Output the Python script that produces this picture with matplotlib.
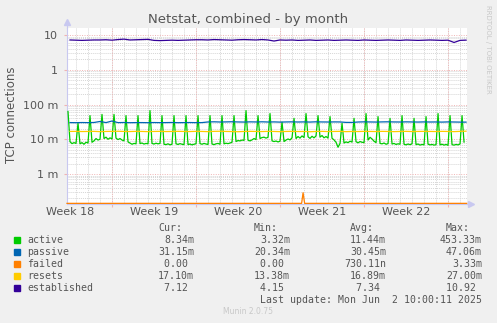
import numpy as np
import matplotlib
matplotlib.use("Agg")
import matplotlib.pyplot as plt
from matplotlib.patches import Rectangle
from matplotlib.ticker import FixedLocator, NullFormatter
import matplotlib.transforms as mtransforms

W, H = 497, 323
MILLI = 1e-3

# values in milli (connections); active is sampled every 4h (2h, 6h, .. 22h of each day)
active_m = [
    63.0, 8.5, 7.5, 8.0, 7.6, 29.0,
    7.4, 8.0, 7.2, 8.2, 7.8, 48.0,
    8.2, 9.0, 10.5, 9.5, 10.0, 52.0,
    10.5, 11.5, 10.0, 11.0, 10.2, 52.0,
    10.8, 9.8, 10.5, 9.5, 9.0, 48.0,
    8.4, 7.8, 7.2, 7.6, 7.4, 48.0,
    7.5, 7.8, 7.3, 7.6, 7.4, 67.0,
    7.6, 7.3, 7.7, 7.4, 7.6, 48.0,
    7.2, 7.0, 7.4, 6.9, 7.2, 48.0,
    7.4, 7.1, 7.5, 7.2, 7.0, 48.0,
    7.0, 7.3, 6.9, 7.2, 7.4, 48.0,
    7.5, 7.2, 7.6, 7.3, 7.1, 48.0,
    7.3, 7.0, 7.4, 7.6, 7.2, 48.0,
    7.4, 7.7, 7.5, 7.8, 8.2, 48.0,
    8.6, 9.2, 9.0, 9.5, 9.3, 67.0,
    9.4, 9.0, 9.6, 10.5, 9.8, 48.0,
    10.5, 11.2, 11.5, 10.8, 11.4, 55.0,
    9.0, 8.6, 8.9, 8.4, 8.8, 31.0,
    8.6, 9.5, 10.2, 9.6, 11.0, 40.0,
    10.5, 12.0, 10.8, 12.5, 11.2, 55.0,
    11.8, 10.6, 12.2, 11.0, 12.5, 48.0,
    11.5, 12.8, 11.0, 12.0, 10.8, 45.0,
    10.7, 9.6, 8.2, 5.9, 7.6, 29.0,
    7.8, 8.4, 8.0, 8.8, 8.3, 40.0,
    8.5, 7.9, 8.6, 8.2, 8.0, 55.0,
    9.5, 11.4, 10.2, 8.8, 8.0, 45.0,
    7.6, 7.4, 7.8, 7.2, 7.5, 40.0,
    7.3, 7.6, 7.1, 7.4, 7.2, 48.0,
    7.2, 6.9, 7.3, 7.0, 7.4, 40.0,
    7.0, 7.3, 6.8, 7.1, 6.9, 45.0,
    7.2, 6.9, 7.1, 6.8, 7.0, 55.0,
    6.9, 7.2, 6.8, 7.1, 6.7, 48.0,
    7.0, 6.8, 7.1, 6.9, 7.3, 48.0,
    8.3,
]

# two samples per day
passive_m = [
    30.2, 30.0, 30.3, 30.1, 30.4, 32.5, 30.2, 33.5, 30.1, 30.4, 30.0, 30.2,
    30.2, 30.0, 30.3, 30.1, 30.2, 30.4, 30.0, 30.2, 30.3, 30.1, 30.2,
    31.5, 31.8, 31.4, 31.6, 31.9, 31.5, 31.3, 31.7, 31.5, 31.8, 31.4, 31.6,
    31.2, 31.5, 31.7, 31.4, 31.6, 31.3, 31.8, 31.5, 31.4, 31.6, 31.5, 30.6,
    30.5, 31.4, 31.7, 31.5, 31.3, 31.6, 31.8, 31.5, 31.4, 31.7, 31.5, 31.3,
    31.6, 31.4, 31.5, 31.2, 31.6, 31.4, 31.2, 31.15,
]
resets_m = [
    16.8, 16.9, 16.7, 16.8, 16.9, 16.6, 16.8, 16.9, 17.0, 16.8, 16.7, 16.9,
    16.8, 16.6, 16.8, 16.9, 16.7, 16.8, 16.9, 16.8, 16.7, 16.9, 16.8, 16.6,
    16.9, 17.0, 16.8, 16.7, 16.5, 16.8, 16.9, 16.8, 16.7, 16.9, 16.8, 16.6,
    16.8, 16.9, 16.7, 16.8, 16.5, 16.8, 16.9, 16.7, 16.8, 16.9, 16.6, 16.8,
    16.7, 16.9, 16.8, 16.7, 16.9, 16.8, 16.6, 16.8, 16.9, 16.7, 16.8, 16.9,
    16.8, 16.7, 16.9, 16.8, 16.6, 16.9, 17.1,
]
established = [
    7.2, 7.1, 7.0, 7.1, 7.2, 7.2, 7.3, 7.1, 7.4, 7.6, 7.2, 7.3,
    7.4, 7.5, 7.0, 6.9, 7.0, 7.1, 7.0, 7.1, 7.2, 7.3, 7.3, 7.2,
    7.4, 7.3, 7.2, 7.1, 7.3, 7.4, 7.3, 7.2, 7.4, 7.2, 6.7, 7.2,
    7.1, 7.2, 7.0, 7.1, 7.2, 7.0, 7.1, 7.2, 7.0, 7.1, 7.2, 7.1,
    7.0, 7.2, 7.1, 7.0, 7.1, 7.2, 7.1, 7.0, 7.2, 7.1, 7.0, 7.1,
    7.2, 7.1, 7.0, 7.1, 6.1, 7.0, 7.12,
]
failed_t = [0.0, 19.55, 19.67, 19.8, 33.3]
failed_m = [0.0, 0.0, 0.29, 0.0, 0.0]

week_labels = ["Week 18", "Week 19", "Week 20", "Week 21", "Week 22"]
week_starts = [3.75, 10.75, 17.75, 24.75, 31.75]

ytick_vals = [1e-3, 1e-2, 1e-1, 1, 10]
ytick_labels = ["1 m", "10 m", "100 m", "1", "10"]

legend_names = ["active", "passive", "failed", "resets", "established"]
legend_colors = ["#00CC00", "#0066B3", "#FF8000", "#FFCC00", "#330099"]
cur = ["8.34m", "31.15m", "0.00 ", "17.10m", "7.12 "]
vmin = ["3.32m", "20.34m", "0.00 ", "13.38m", "4.15 "]
avg = ["11.44m", "30.45m", "730.11n", "16.89m", "7.34 "]
vmax = ["453.33m", "47.06m", "3.33m", "27.00m", "10.92 "]

YMIN, YMAX = 1.42e-4, 15.9
XMAX = 33.33

active_t = (np.arange(len(active_m)) * 4 + 2) / 24.0
half_t = np.arange(len(passive_m)) * 0.5 + 0.25

fig = plt.figure(figsize=(W / 100, H / 100), dpi=100, facecolor="#F0F0F0")
ax = fig.add_axes([67 / W, 1 - 203.5 / H, 400 / W, 175.5 / H])
ax.set_facecolor("white")
ax.set_yscale("log")
ax.set_xlim(0, XMAX)
ax.set_ylim(YMIN, YMAX)

grid_gray = "#d6d6d6"
grid_red = "#f0b4b4"
# minor grid
for d in np.arange(0.75, XMAX, 1.0):
    ax.axvline(d, color=grid_gray, lw=0.7, ls=(0, (1, 1)), zorder=0)
for dec in [1e-4, 1e-3, 1e-2, 1e-1, 1, 10]:
    for s in range(2, 10):
        v = dec * s
        if YMIN < v < YMAX:
            ax.axhline(v, color=grid_gray, lw=0.7, ls=(0, (1, 1)), zorder=0)
# major grid
for d in week_starts:
    ax.axvline(d, color=grid_red, lw=0.7, ls=(0, (1, 1.5)), zorder=0.5)
for v in ytick_vals:
    ax.axhline(v, color=grid_red, lw=0.7, ls=(0, (1, 1.5)), zorder=0.5)

lw = 0.9
ax.plot(active_t, np.array(active_m) * MILLI, color=legend_colors[0], lw=lw, zorder=3)
ax.plot(half_t, np.array(passive_m) * MILLI, color=legend_colors[1], lw=lw, zorder=3)
ax.plot(failed_t, np.maximum(np.array(failed_m) * MILLI, YMIN * 1.01),
        color=legend_colors[2], lw=lw, zorder=3, clip_on=False)
ax.plot(half_t, np.array(resets_m) * MILLI, color=legend_colors[3], lw=lw, zorder=3)
ax.plot(half_t, established, color=legend_colors[4], lw=lw, zorder=3)

for s in ["top", "right"]:
    ax.spines[s].set_visible(False)
ax.spines["left"].set_color("#c8c8f0")
ax.spines["bottom"].set_color("#c8c8f0")
ax.spines["left"].set_linewidth(0.8)
ax.spines["bottom"].set_linewidth(0.8)

# axis arrows
ax.plot([0, 0], [1, 1.035], color="#c8c8f0", lw=0.8, transform=ax.transAxes, clip_on=False)
ax.plot([0], [1.035], marker="^", ms=4, color="#c8c8f0", transform=ax.transAxes, clip_on=False)
ax.plot([1, 1.01], [0, 0], color="#c8c8f0", lw=0.8, transform=ax.transAxes, clip_on=False)
ax.plot([1.01], [0], marker=">", ms=4, color="#c8c8f0", transform=ax.transAxes, clip_on=False)

ax.yaxis.set_major_locator(FixedLocator(ytick_vals))
ax.set_yticklabels(ytick_labels)
ax.yaxis.set_minor_locator(FixedLocator([]))
ax.yaxis.set_minor_formatter(NullFormatter())
ax.tick_params(axis="y", which="major", length=2.5, color=grid_red, labelsize=8,
               labelcolor="#555555", pad=4)
ax.xaxis.set_major_locator(FixedLocator(week_starts))
ax.xaxis.set_major_formatter(NullFormatter())
ax.tick_params(axis="x", which="major", length=2.5, color=grid_red)

trans = mtransforms.blended_transform_factory(ax.transData, fig.transFigure)
for ws, lab in zip(week_starts, week_labels):
    ax.text(ws - 3.5, 1 - 212 / H, lab, transform=trans, ha="center", va="center",
            fontsize=8, color="#555555")

fig.text(248 / W, 1 - 19 / H, "Netstat, combined - by month", ha="center", va="center",
         fontsize=9.5, color="#555555")
fig.text(12 / W, 1 - 115 / H, "TCP connections", rotation=90, ha="center", va="center",
         fontsize=8.5, color="#555555")
fig.text(488 / W, 1 - 5 / H, "RRDTOOL / TOBI OETIKER", rotation=270, ha="center", va="top",
         fontsize=5, color="#c8c8c8")
fig.text(248 / W, 1 - 312 / H, "Munin 2.0.75", ha="center", va="center",
         fontsize=5.5, color="#c8c8c8")

mono = dict(family="DejaVu Sans Mono", fontsize=7.1, color="#555555", va="center")
cols = [194, 290, 386, 482]
for x, h in zip(cols, ["Cur:", "Min:", "Avg:", "Max:"]):
    fig.text((x - 12) / W, 1 - 228 / H, h, ha="right", **mono)
for i, name in enumerate(legend_names):
    y = 240 + 12 * i
    fig.patches.append(Rectangle((14 / W, 1 - (y + 3) / H), 6 / W, 6 / H,
                                 transform=fig.transFigure, color=legend_colors[i]))
    fig.text(27 / W, 1 - y / H, name, ha="left", **mono)
    for x, v in zip(cols, [cur[i], vmin[i], avg[i], vmax[i]]):
        fig.text(x / W, 1 - y / H, v, ha="right", **mono)
fig.text(482 / W, 1 - 300 / H, "Last update: Mon Jun  2 10:00:11 2025", ha="right", **mono)

fig.savefig("out.png", dpi=100, facecolor=fig.get_facecolor())
